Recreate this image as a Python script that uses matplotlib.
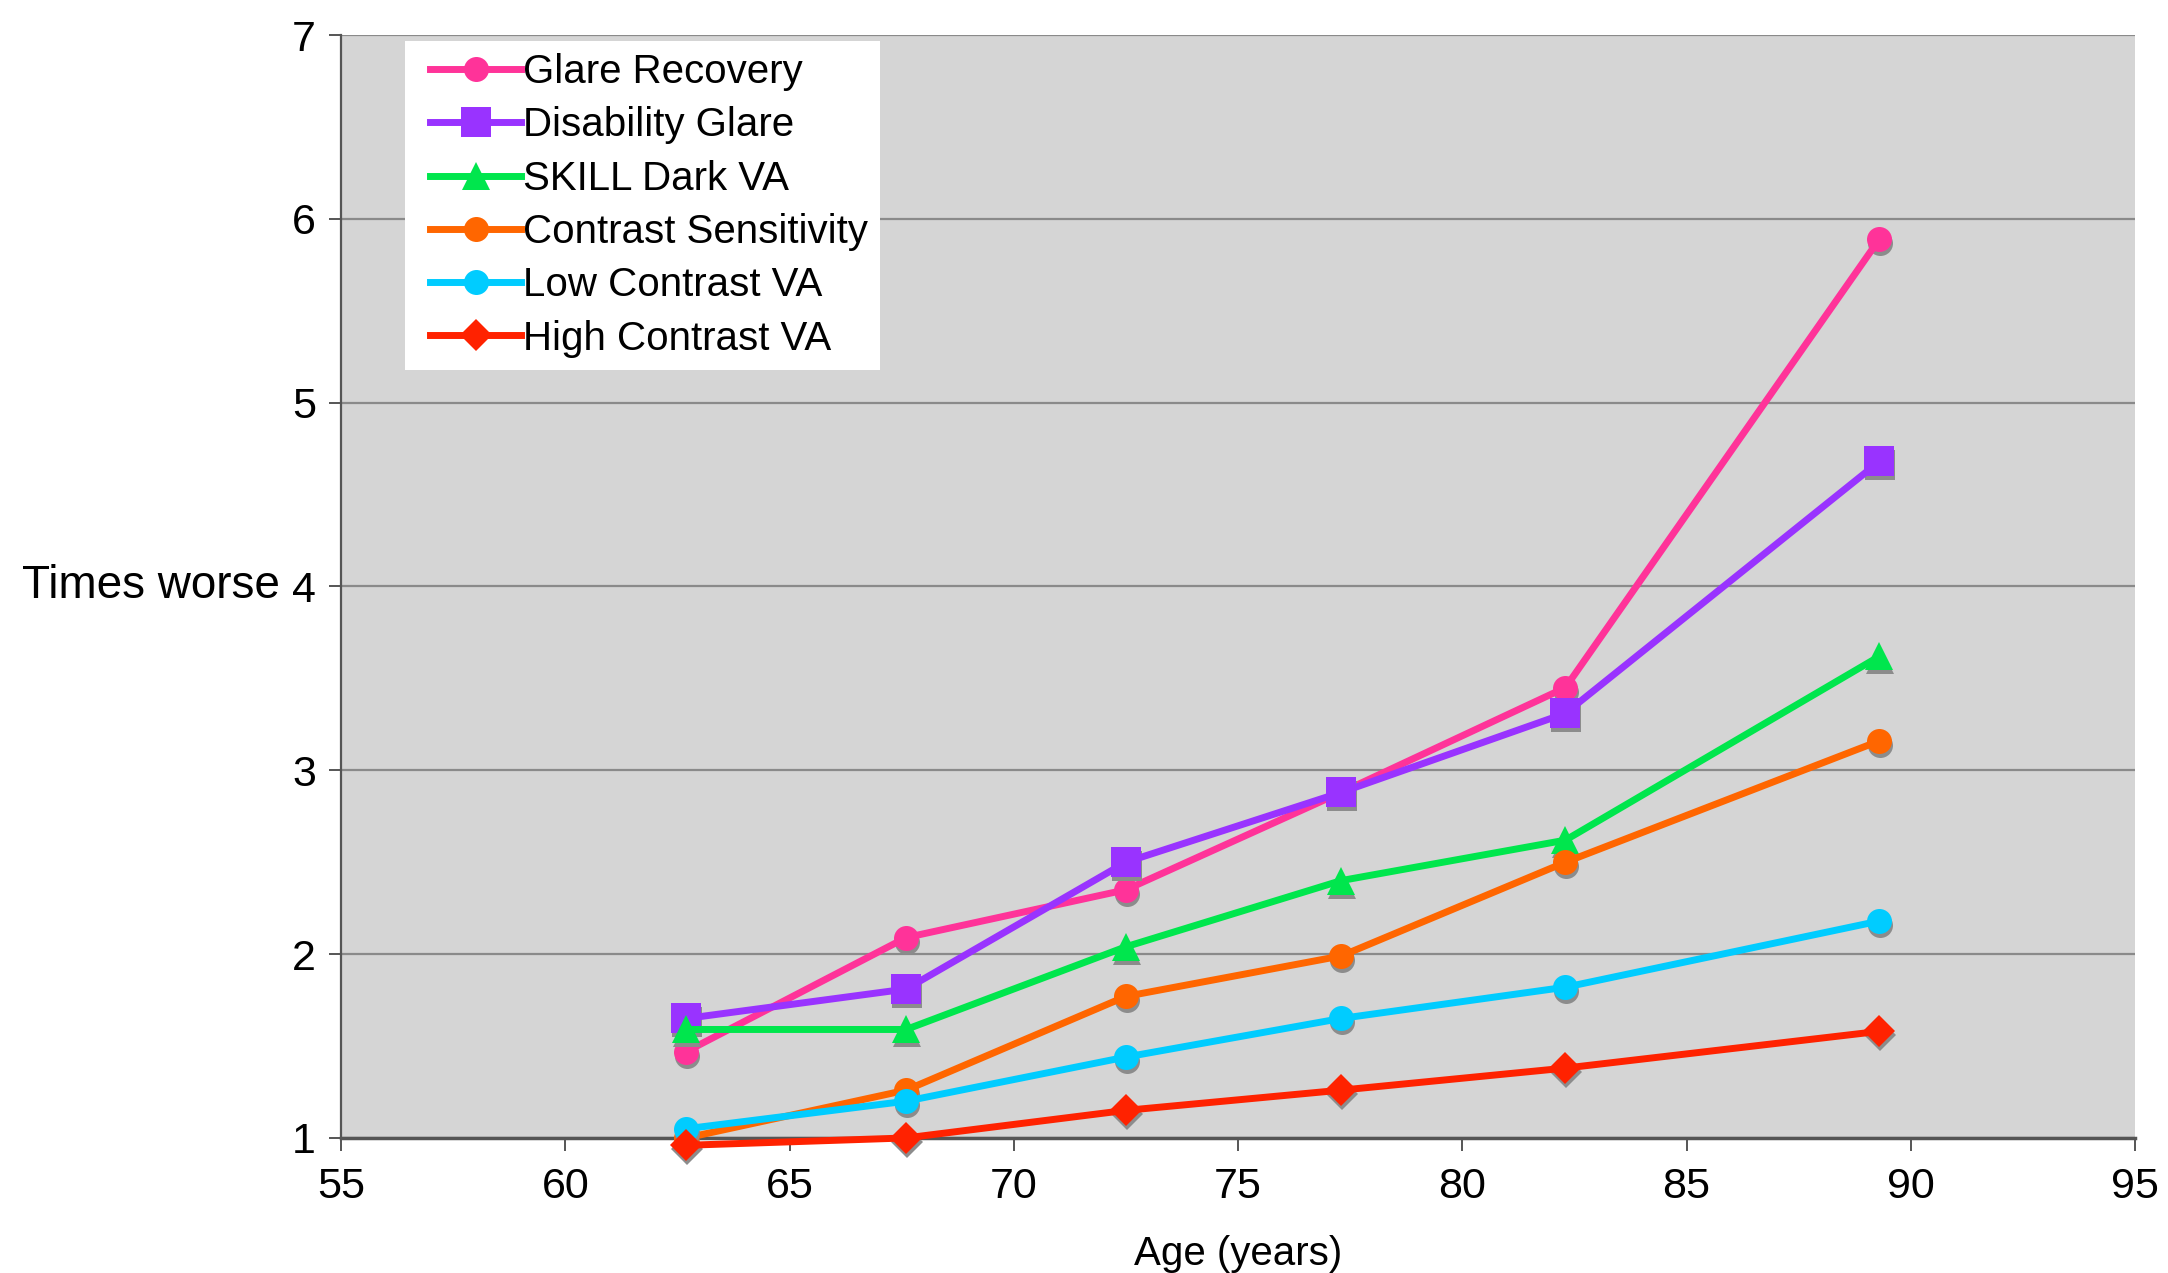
import matplotlib
matplotlib.use("Agg")
import matplotlib.pyplot as plt
from matplotlib.transforms import offset_copy
from matplotlib.legend_handler import HandlerLine2D

plt.rcParams['font.family'] = ['Liberation Sans', 'DejaVu Sans']

ages = [62.7, 67.6, 72.5, 77.3, 82.3, 89.3]
series_names = ["Glare Recovery", "Disability Glare", "SKILL Dark VA",
                "Contrast Sensitivity", "Low Contrast VA", "High Contrast VA"]
glare_recovery = [1.47, 2.09, 2.35, 2.88, 3.45, 5.89]
disability_glare = [1.65, 1.81, 2.50, 2.88, 3.31, 4.68]
skill_dark_va = [1.59, 1.59, 2.04, 2.40, 2.62, 3.62]
contrast_sensitivity = [1.00, 1.26, 1.77, 1.99, 2.50, 3.16]
low_contrast_va = [1.05, 1.20, 1.44, 1.65, 1.82, 2.18]
high_contrast_va = [0.96, 1.00, 1.15, 1.26, 1.38, 1.58]
x_ticks = [55, 60, 65, 70, 75, 80, 85, 90, 95]
y_ticks = [1, 2, 3, 4, 5, 6, 7]

values = [glare_recovery, disability_glare, skill_dark_va,
          contrast_sensitivity, low_contrast_va, high_contrast_va]
colors = ["#FF3399", "#9933FF", "#00E64D", "#FF6600", "#00CCFF", "#FF2200"]
markers = ["o", "s", "^", "o", "o", "D"]
msizes = [18, 22, 20, 18, 18, 16]

fig = plt.figure(figsize=(21.68, 12.73), dpi=100)
ax = fig.add_axes([0.1573, 0.1061, 0.8275, 0.8664])
ax.set_facecolor("#D5D5D5")

shadow_tr = offset_copy(ax.transData, fig=fig, x=1, y=-4, units='dots')
handles = []
for i, (name, vals) in enumerate(zip(series_names, values)):
    ax.plot(ages, vals, linestyle='none', marker=markers[i], markersize=msizes[i],
            color="#8C8C8C", markeredgewidth=0, transform=shadow_tr, clip_on=False,
            zorder=3 + i * 0.1)
    h, = ax.plot(ages, vals, color=colors[i], linewidth=5, marker=markers[i],
                 markersize=msizes[i], markeredgewidth=0, label=name, clip_on=False,
                 zorder=3.05 + i * 0.1)
    handles.append(h)

ax.set_xlim(55, 95)
ax.set_ylim(1, 7)
ax.set_xticks(x_ticks)
ax.set_yticks(y_ticks)
ax.yaxis.grid(True, color="#8A8A8A", linewidth=1.6)
ax.set_axisbelow(True)
for s in ["top", "right"]:
    ax.spines[s].set_visible(False)
ax.spines["left"].set_color("#555555")
ax.spines["left"].set_linewidth(1.6)
ax.spines["bottom"].set_color("#555555")
ax.spines["bottom"].set_linewidth(2.5)
ax.tick_params(axis='both', direction='out', length=9, width=1.4, color="#555555",
               labelsize=31)
ax.tick_params(axis='y', pad=9)
ax.tick_params(axis='x', pad=12)

ax.set_xlabel("Age (years)", fontsize=29, labelpad=20)
ax.set_ylabel("Times worse", fontsize=33, rotation=0, ha='right', va='center')
ax.yaxis.set_label_coords(-0.034, 0.5)

leg = ax.legend(handles=handles, loc='upper left', bbox_to_anchor=(0.0357, 0.9946),
                fontsize=29, frameon=True, fancybox=False, framealpha=1,
                edgecolor='white', handlelength=2.57, handletextpad=0.07,
                labelspacing=0.38, borderpad=0.3, borderaxespad=0,
                handler_map={h: HandlerLine2D(xpad=0.33) for h in handles})
leg.get_frame().set_linewidth(0)

fig.savefig("out.png", dpi=100)
